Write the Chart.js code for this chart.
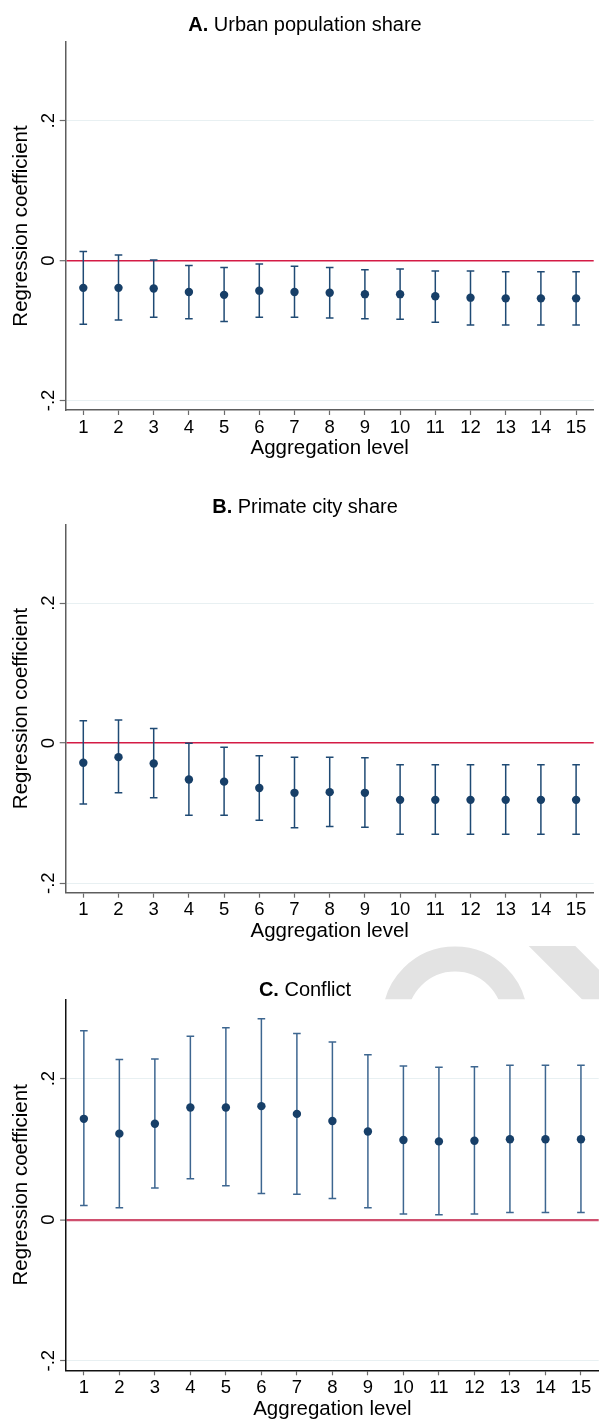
<!DOCTYPE html>
<html>
<head>
<meta charset="utf-8">
<script src="https://cdn.jsdelivr.net/npm/chart.js@4/dist/chart.umd.min.js"></script>
<style>
  html, body { margin: 0; padding: 0; background: #ffffff; }
  #wrap { position: relative; width: 599px; height: 1420px; overflow: hidden; background: #ffffff; }
  canvas { position: absolute; left: 0; }
</style>
</head>
<body>
<div id="wrap">
  <canvas id="panelA"></canvas>
  <canvas id="panelB"></canvas>
  <canvas id="panelC"></canvas>
</div>
<script>
// ---------- data ----------
const levels = [1, 2, 3, 4, 5, 6, 7, 8, 9, 10, 11, 12, 13, 14, 15];
const xLabels = ['1', '2', '3', '4', '5', '6', '7', '8', '9', '10', '11', '12', '13', '14', '15'];
const yTickValues = [-0.2, 0, 0.2];
const yTickLabels = ['-.2', '0', '.2'];
const xTitle = 'Aggregation level';
const yTitle = 'Regression coefficient';

const urbanCoef = [-0.039, -0.039, -0.040, -0.045, -0.049, -0.043, -0.045, -0.046, -0.048, -0.048, -0.051, -0.053, -0.054, -0.054, -0.054];
const urbanLo   = [-0.091, -0.085, -0.081, -0.083, -0.087, -0.081, -0.081, -0.082, -0.083, -0.084, -0.088, -0.092, -0.092, -0.092, -0.092];
const urbanHi   = [0.013, 0.008, 0.001, -0.007, -0.010, -0.005, -0.008, -0.010, -0.013, -0.012, -0.015, -0.015, -0.016, -0.016, -0.016];

const primateCoef = [-0.028, -0.020, -0.029, -0.052, -0.055, -0.064, -0.071, -0.070, -0.071, -0.081, -0.081, -0.081, -0.081, -0.081, -0.081];
const primateLo   = [-0.087, -0.071, -0.078, -0.103, -0.103, -0.110, -0.121, -0.119, -0.120, -0.130, -0.130, -0.130, -0.130, -0.130, -0.130];
const primateHi   = [0.032, 0.033, 0.021, 0.000, -0.006, -0.018, -0.020, -0.020, -0.021, -0.031, -0.031, -0.031, -0.031, -0.031, -0.031];

const conflictCoef = [0.143, 0.122, 0.136, 0.159, 0.159, 0.161, 0.150, 0.140, 0.125, 0.113, 0.111, 0.112, 0.114, 0.114, 0.114];
const conflictLo   = [0.020, 0.017, 0.045, 0.058, 0.048, 0.037, 0.036, 0.030, 0.017, 0.008, 0.007, 0.008, 0.010, 0.010, 0.010];
const conflictHi   = [0.268, 0.227, 0.228, 0.260, 0.272, 0.285, 0.264, 0.252, 0.234, 0.218, 0.216, 0.217, 0.219, 0.219, 0.219];

const panelLetters = ['A.', 'B.', 'C.'];
const panelNames = [' Urban population share', ' Primate city share', ' Conflict'];

const xMin = 0.5, xMax = 15.5;
const yMin = -0.2136, yMax = 0.3125;

// ---------- styling ----------
const FAMILY = "'Liberation Sans', Arial, Helvetica, sans-serif";
Chart.defaults.font.family = FAMILY;

const panelTitlePlugin = {
  id: 'panelTitle',
  beforeDraw(chart, args, opts) {
    const ctx = chart.ctx;
    if (opts.watermark) {
      ctx.save();
      ctx.beginPath();
      ctx.rect(0, 6, chart.width, chart.chartArea.top - 6);
      ctx.clip();
      ctx.strokeStyle = '#e3e3e3';
      ctx.lineWidth = 25;
      ctx.beginPath();
      ctx.arc(455, 79, 60, Math.PI, 2 * Math.PI);
      ctx.stroke();
      ctx.lineWidth = 33;
      ctx.beginPath();
      ctx.moveTo(530, -16);
      ctx.lineTo(620, 74);
      ctx.stroke();
      ctx.restore();
    }
  },
  afterDraw(chart, args, opts) {
    const ctx = chart.ctx;
    ctx.save();
    ctx.fillStyle = '#000';
    ctx.textBaseline = 'alphabetic';
    ctx.textAlign = 'left';
    ctx.font = 'bold 20px ' + FAMILY;
    const w1 = ctx.measureText(opts.letter).width;
    ctx.font = '20px ' + FAMILY;
    const w2 = ctx.measureText(opts.name).width;
    const x0 = opts.cx - (w1 + w2) / 2;
    ctx.font = 'bold 20px ' + FAMILY;
    ctx.fillText(opts.letter, x0, opts.baseline);
    ctx.font = '20px ' + FAMILY;
    ctx.fillText(opts.name, x0 + w1, opts.baseline);
    ctx.restore();
  }
};

function makePanel(cfg) {
  const canvas = document.getElementById(cfg.id);
  canvas.width = cfg.W;
  canvas.height = cfg.H;
  canvas.style.width = cfg.W + 'px';
  canvas.style.height = cfg.H + 'px';
  canvas.style.top = cfg.top + 'px';

  const xAxisH = cfg.H - cfg.plotBottom;
  const titleLH = 20.5 * 1.2;

  new Chart(canvas, {
    type: 'scatter',
    data: {
      datasets: [
        {
          label: 'coefficient',
          data: levels.map((x, i) => ({ x: x, y: cfg.coef[i] })),
          showLine: false,
          pointRadius: 4.2,
          pointHoverRadius: 4.2,
          pointBackgroundColor: cfg.markerColor,
          pointBorderWidth: 0
        },
        {
          label: 'ci',
          data: levels.flatMap((x, i) => [{ x: x, y: cfg.lo[i] }, { x: x, y: cfg.hi[i] }, { x: x, y: null }]),
          showLine: true,
          spanGaps: false,
          borderColor: cfg.barColor,
          borderWidth: 1.5,
          pointStyle: 'line',
          pointRadius: 3.8,
          pointHoverRadius: 3.8,
          pointBorderColor: cfg.barColor,
          pointBorderWidth: 1.5,
          pointBackgroundColor: 'rgba(0,0,0,0)'
        }
      ]
    },
    options: {
      responsive: false,
      animation: false,
      events: [],
      devicePixelRatio: 1,
      layout: { padding: { top: cfg.plotTop, left: 0, right: 0, bottom: 0 } },
      plugins: {
        legend: { display: false },
        tooltip: { enabled: false },
        title: { display: false },
        panelTitle: { letter: cfg.letter, name: cfg.name, cx: 305, baseline: cfg.titleBaseline, watermark: !!cfg.watermark }
      },
      scales: {
        x: {
          type: 'linear',
          position: 'bottom',
          min: xMin,
          max: xMax,
          afterBuildTicks: s => { s.ticks = levels.map(v => ({ value: v })); },
          afterFit: s => { s.height = xAxisH; },
          ticks: {
            autoSkip: false,
            maxRotation: 0,
            minRotation: 0,
            padding: 1.4,
            color: '#000',
            font: { size: 18.5 },
            callback: v => xLabels[levels.indexOf(v)]
          },
          grid: {
            display: true,
            drawOnChartArea: false,
            drawTicks: true,
            tickLength: 5,
            tickColor: '#6b6b6b',
            tickWidth: 1.2
          },
          border: { display: true, color: cfg.axisColor, width: 1.5 },
          title: {
            display: true,
            text: xTitle,
            color: '#000',
            font: { size: 20.5 },
            padding: { top: 0, bottom: xAxisH - 38.6 - titleLH / 2 }
          }
        },
        y: {
          type: 'linear',
          position: 'left',
          min: yMin,
          max: yMax,
          afterBuildTicks: s => { s.ticks = yTickValues.map(v => ({ value: v })); },
          afterFit: s => { s.width = cfg.yAxisW; },
          ticks: {
            minRotation: 90,
            maxRotation: 90,
            crossAlign: 'center',
            padding: 0,
            color: '#000',
            font: { size: 18.5 },
            callback: v => yTickLabels[yTickValues.indexOf(v)]
          },
          grid: {
            display: true,
            drawOnChartArea: true,
            drawTicks: true,
            tickLength: 6,
            tickColor: '#6b6b6b',
            tickWidth: 1.2,
            color: c => (c.tick && c.tick.value === 0) ? cfg.zeroColor : '#e8f0f2',
            lineWidth: c => (c.tick && c.tick.value === 0) ? cfg.zeroWidth : 1
          },
          border: { display: true, color: cfg.axisColor, width: 1.5 },
          title: {
            display: true,
            text: yTitle,
            color: '#000',
            font: { size: 20.5 },
            padding: { top: 9.4, bottom: 0 }
          }
        }
      }
    },
    plugins: [panelTitlePlugin]
  });
}

makePanel({
  id: 'panelA', top: 0, W: 599, H: 482, plotTop: 42, plotBottom: 410, yAxisW: 65.7,
  titleBaseline: 30.7, letter: panelLetters[0], name: panelNames[0],
  coef: urbanCoef, lo: urbanLo, hi: urbanHi,
  markerColor: '#173f68', barColor: '#1f4a74', axisColor: '#5e5e5e',
  zeroColor: '#d41b45', zeroWidth: 1.4
});
makePanel({
  id: 'panelB', top: 482, W: 599, H: 470, plotTop: 42.3, plotBottom: 410.7, yAxisW: 65.7,
  titleBaseline: 30.7, letter: panelLetters[1], name: panelNames[1],
  coef: primateCoef, lo: primateLo, hi: primateHi,
  markerColor: '#173f68', barColor: '#1f4a74', axisColor: '#5e5e5e',
  zeroColor: '#d41b45', zeroWidth: 1.4
});
makePanel({
  id: 'panelC', top: 940, W: 604, H: 500, plotTop: 59.3, plotBottom: 430.3, yAxisW: 66.1,
  titleBaseline: 56, letter: panelLetters[2], name: panelNames[2],
  coef: conflictCoef, lo: conflictLo, hi: conflictHi,
  markerColor: '#173f68', barColor: '#3d6690', axisColor: '#111111',
  zeroColor: '#cf4f6e', zeroWidth: 2.2, watermark: true
});
</script>
</body>
</html>
